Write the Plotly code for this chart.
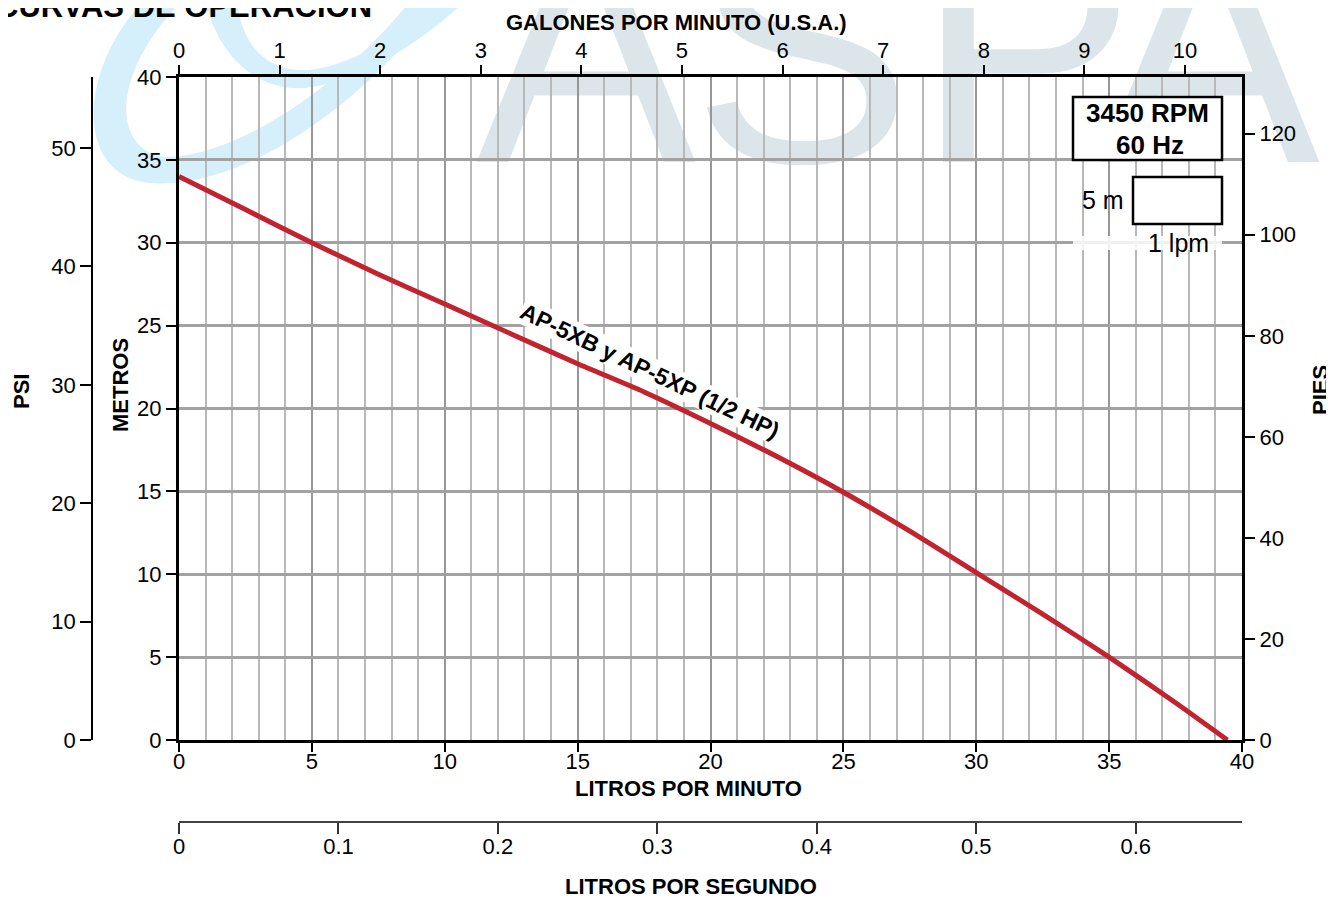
import plotly.graph_objects as go

# ---------------- data ----------------
lpm = [0, 2.5, 5, 7.5, 10, 12.5, 15, 17.5, 20, 22.5, 25, 27.5, 30, 32.5, 35, 37.5, 39.45]
metros = [34.0, 32.0, 30.0, 28.1, 26.3, 24.5, 22.7, 21.0, 19.1, 17.1, 14.95, 12.6, 10.1, 7.6, 5.0, 2.25, 0.0]
curve_name = "AP-5XB y AP-5XP (1/2 HP)"

lpm_ticks = [0, 5, 10, 15, 20, 25, 30, 35, 40]
metros_ticks = [0, 5, 10, 15, 20, 25, 30, 35, 40]
gpm_ticks = [0, 1, 2, 3, 4, 5, 6, 7, 8, 9, 10]
lps_ticks = [0, 0.1, 0.2, 0.3, 0.4, 0.5, 0.6]
lps_labels = ["0", "0.1", "0.2", "0.3", "0.4", "0.5", "0.6"]
psi_ticks = [0, 10, 20, 30, 40, 50]
pies_ticks = [0, 20, 40, 60, 80, 100, 120]

LPM_MAX = 40
M_MAX = 40
GAL_L = 3.78541
PSI_RANGE_MAX = 56
FT_PER_M = 3.28084

# ---------------- layout geometry (screen pixels) ----------------
OFF = 8                      # page body margin
W, H = 1334 - OFF, 899 - OFF
SX0, SX1 = 179, 1242         # plot area, screen x
SY0, SY1 = 740, 77           # plot area, screen y (bottom, top)
SY_LPS = 822                 # litros/segundo axis, screen y
ML = 0
MT = SY1 - OFF
MB = H - (SY_LPS - OFF)
MR = W - (SX1 - OFF)
PW = W - ML - MR
PH = H - MT - MB


def px(sx):
    return (sx - OFF - ML) / PW


def py(sy):
    return (H - MB - (sy - OFF)) / PH


def X(sx):
    return (sx - SX0) / ((SX1 - SX0) / LPM_MAX)


def Y(sy):
    return (SY0 - sy) / ((SY0 - SY1) / M_MAX)


FN = "Liberation Sans, Arial, Helvetica, sans-serif"
tickfont = dict(family=FN, size=22, color="black")

fig = go.Figure()
fig.add_trace(go.Scatter(x=lpm, y=metros, mode="lines",
                         line=dict(color="#c1232f", width=5, shape="spline", smoothing=0.6),
                         xaxis="x", yaxis="y", showlegend=False, hoverinfo="skip"))
# helper traces so every axis is attached
fig.add_trace(go.Scatter(x=[None], y=[None], xaxis="x2", yaxis="y", showlegend=False))
fig.add_trace(go.Scatter(x=[None], y=[None], xaxis="x3", yaxis="y", showlegend=False))
fig.add_trace(go.Scatter(x=[None], y=[None], xaxis="x", yaxis="y2", showlegend=False))
fig.add_trace(go.Scatter(x=[None], y=[None], xaxis="x", yaxis="y3", showlegend=False))

fig.update_layout(
    width=W, height=H,
    margin=dict(l=ML, r=MR, t=MT, b=MB, pad=0, autoexpand=False),
    paper_bgcolor="white", plot_bgcolor="white",
    showlegend=False,
    xaxis=dict(domain=[px(SX0), 1], range=[0, LPM_MAX], tickvals=lpm_ticks,
               ticks="outside", ticklen=9, tickwidth=1.5, tickcolor="black",
               ticklabelstandoff=-9,
               showline=True, linewidth=3, linecolor="black",
               showgrid=True, gridcolor="#979797", gridwidth=2,
               minor=dict(dtick=1, showgrid=True, gridcolor="#b8b8b8", gridwidth=1.6, ticks=""),
               zeroline=False, tickfont=tickfont, anchor="y"),
    yaxis=dict(domain=[py(SY0), 1], range=[0, M_MAX], tickvals=metros_ticks,
               ticks="outside", ticklen=10, tickwidth=1.5, tickcolor="black",
               showline=True, linewidth=3, linecolor="black",
               showgrid=True, gridcolor="#a2a2a2", gridwidth=2.5,
               zeroline=False, tickfont=tickfont, anchor="x"),
    xaxis2=dict(overlaying="x", side="top", anchor="y", range=[0, LPM_MAX / GAL_L],
                tickvals=gpm_ticks, ticks="outside", ticklen=9, tickwidth=1.5, tickcolor="black",
                ticklabelstandoff=-2,
                showline=True, linewidth=3, linecolor="black", showgrid=False, zeroline=False,
                tickfont=tickfont),
    xaxis3=dict(overlaying="x", anchor="free", position=0, side="bottom",
                range=[0, LPM_MAX / 60], tickvals=lps_ticks, ticktext=lps_labels,
                ticks="outside", ticklen=11, tickwidth=1.5, tickcolor="#333333",
                ticklabelstandoff=-6,
                showline=True, linewidth=2, linecolor="#444444", showgrid=False, zeroline=False,
                tickfont=tickfont),
    yaxis2=dict(overlaying="y", anchor="free", position=px(92), side="left",
                range=[0, PSI_RANGE_MAX], tickvals=psi_ticks,
                ticks="outside", ticklen=11, tickwidth=1.5, tickcolor="black",
                showline=True, linewidth=1.5, linecolor="black", showgrid=False, zeroline=False,
                tickfont=tickfont),
    yaxis3=dict(overlaying="y", anchor="x", side="right",
                range=[0, M_MAX * FT_PER_M], tickvals=pies_ticks,
                ticks="outside", ticklen=10, tickwidth=1.5, tickcolor="black",
                showline=True, linewidth=3, linecolor="black", showgrid=False, zeroline=False,
                tickfont=tickfont),
)

shapes = []


def path_px(cmds):
    out = []
    for c in cmds:
        if isinstance(c, str):
            out.append(c)
        else:
            out.append(f"{px(c[0]):.5f},{py(c[1]):.5f}")
    return " ".join(out)


# watermark swoosh (light blue)
swoosh = "#d5f0fb"
shapes.append(dict(type="path", xref="paper", yref="paper", layer="below",
                   path=path_px(["M", (150, -5), "C", (80, 60), (70, 175), (150, 183),
                                 "C", (240, 190), (360, 110), (445, -5),
                                 "L", (415, -5), "C", (345, 85), (235, 158), (165, 157),
                                 "C", (110, 150), (110, 70), (188, -5), "Z"]),
                   fillcolor=swoosh, line=dict(width=0)))
shapes.append(dict(type="path", xref="paper", yref="paper", layer="below",
                   path=path_px(["M", (205, -5), "C", (212, 45), (250, 92), (305, 88),
                                 "C", (365, 82), (430, 35), (472, -5),
                                 "L", (450, -5), "C", (410, 28), (355, 66), (308, 70),
                                 "C", (262, 72), (240, 40), (236, -5), "Z"]),
                   fillcolor=swoosh, line=dict(width=0)))

# watermark letters (grey-blue)
wm = "#dce6ea"
for letter, cx in [("A", 586), ("S", 802), ("P", 1026), ("A", 1210)]:
    shapes.append(dict(type="rect", xref="paper", yref="paper", layer="below",
                       x0=px(cx - 150), x1=px(cx + 150), y0=py(201), y1=py(-300),
                       line=dict(width=0), fillcolor="rgba(0,0,0,0)",
                       label=dict(text=letter, textposition="bottom center", padding=0,
                                  font=dict(size=330, color=wm, family=FN))))

# RPM box and scale box
shapes.append(dict(type="rect", xref="x", yref="y", layer="above",
                   x0=X(1073), x1=X(1222), y0=Y(160), y1=Y(97),
                   line=dict(color="black", width=2.5), fillcolor="white"))
shapes.append(dict(type="rect", xref="x", yref="y", layer="above",
                   x0=X(1073), x1=X(1222), y0=Y(250), y1=Y(236),
                   line=dict(width=0), fillcolor="rgba(255,255,255,0.85)"))
shapes.append(dict(type="rect", xref="x", yref="y", layer="above",
                   x0=X(1133), x1=X(1222), y0=Y(224), y1=Y(177),
                   line=dict(color="black", width=2.5), fillcolor="white"))
fig.update_layout(shapes=shapes)

ann = []


def label(text, x, y, size=22, bold=True, angle=0, xref="paper", yref="paper",
          xanchor="center", yanchor="middle", bg=None, pad=1):
    d = dict(text=f"<b>{text}</b>" if bold else text, x=x, y=y, xref=xref, yref=yref,
             xanchor=xanchor, yanchor=yanchor, showarrow=False, textangle=angle,
             borderpad=pad, font=dict(family=FN, size=size, color="black"))
    if bg:
        d["bgcolor"] = bg
        d["borderpad"] = 0
    ann.append(d)


label("CURVAS DE OPERACIÓN", px(-6), py(26), size=31, xanchor="left", yanchor="bottom")
label("GALONES POR MINUTO (U.S.A.)", px(676), py(22))
label("LITROS POR MINUTO", px(688), py(788))
label("LITROS POR SEGUNDO", px(691), py(886))
label("METROS", px(120), py(385), angle=-90)
label("PSI", px(22), py(392), angle=-90)
label("PIES", px(1320), py(390), angle=-90)
label(curve_name, X(650), Y(371), size=23, angle=25.5, xref="x", yref="y", bg="white")
label("3450 RPM", X(1147), Y(128.6), size=26, xref="x", yref="y", yanchor="bottom", pad=0)
label("60 Hz", X(1150), Y(129.4), size=26, xref="x", yref="y", yanchor="top", pad=0)
label("5 m", X(1126), Y(200), size=25, bold=False, xref="x", yref="y", xanchor="right")
label("1 lpm", X(1178), Y(243), size=25, bold=False, xref="x", yref="y")
fig.update_layout(annotations=ann)

fig.write_html("out.html")
